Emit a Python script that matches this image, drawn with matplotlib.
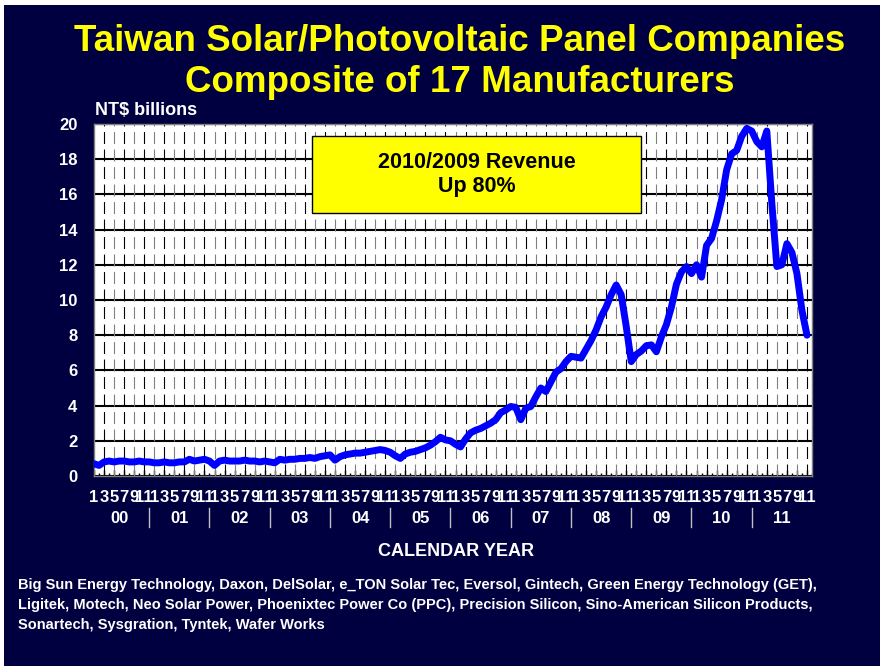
import numpy as np
import matplotlib.pyplot as plt
from matplotlib.patches import Rectangle
from matplotlib import transforms

plt.rcParams['font.family'] = ['Liberation Sans', 'DejaVu Sans']
plt.rcParams['font.weight'] = 'bold'
plt.rcParams['lines.scale_dashes'] = False

NAVY = '#000040'

# monthly revenue, NT$ billions, Jan 2000 .. Nov 2011
revenue = [
    0.70, 0.60, 0.80, 0.85, 0.80, 0.85, 0.85, 0.80, 0.80, 0.85, 0.80, 0.80,   # 2000
    0.75, 0.75, 0.80, 0.75, 0.75, 0.80, 0.80, 0.95, 0.85, 0.90, 0.95, 0.85,   # 2001
    0.60, 0.85, 0.90, 0.85, 0.85, 0.85, 0.90, 0.85, 0.85, 0.80, 0.85, 0.80,   # 2002
    0.75, 0.95, 0.90, 0.95, 0.95, 1.00, 1.00, 1.05, 1.00, 1.10, 1.15, 1.20,   # 2003
    0.90, 1.10, 1.20, 1.25, 1.30, 1.30, 1.35, 1.40, 1.45, 1.50, 1.45, 1.35,   # 2004
    1.15, 1.00, 1.25, 1.35, 1.40, 1.50, 1.60, 1.75, 1.95, 2.20, 2.05, 2.00,   # 2005
    1.80, 1.65, 2.10, 2.45, 2.60, 2.70, 2.85, 3.00, 3.20, 3.60, 3.75, 3.95,   # 2006
    3.90, 3.20, 3.85, 3.95, 4.50, 5.00, 4.80, 5.35, 5.90, 6.10, 6.50, 6.80,   # 2007
    6.75, 6.70, 7.20, 7.70, 8.30, 9.05, 9.60, 10.30, 10.85, 10.30, 8.50, 6.50,  # 2008
    6.90, 7.10, 7.40, 7.45, 7.06, 7.90, 8.60, 9.60, 10.90, 11.60, 11.90, 11.50,  # 2009
    12.00, 11.30, 13.10, 13.50, 14.50, 15.70, 17.40, 18.30, 18.50, 19.30, 19.75, 19.60,  # 2010
    19.00, 18.70, 19.60, 15.50, 11.90, 12.00, 13.20, 12.70, 11.50, 9.40, 8.00,  # 2011
]
years = ['00', '01', '02', '03', '04', '05', '06', '07', '08', '09', '10', '11']
month_labels = ['1', '3', '5', '7', '9', '11']
companies = [
    'Big Sun Energy Technology, Daxon, DelSolar, e_TON Solar Tec, Eversol, Gintech, Green Energy Technology (GET),',
    'Ligitek, Motech, Neo Solar Power, Phoenixtec Power Co (PPC), Precision Silicon, Sino-American Silicon Products,',
    'Sonartech, Sysgration, Tyntek, Wafer Works',
]

months = np.arange(len(revenue))
n_months = len(years) * 12

fig = plt.figure(figsize=(8.8, 6.66), dpi=100)
fig.patch.set_facecolor('white')
fig.patches.append(Rectangle((4 / 880, 0), 1, 1 - 5 / 666, transform=fig.transFigure,
                             facecolor=NAVY, edgecolor='none', zorder=-10))

ax = fig.add_axes([94 / 880, 1 - 476 / 666, 718 / 880, 352 / 666])
ax.set_facecolor('white')
ax.set_xlim(0, n_months - 1)
ax.set_ylim(0, 20)

# gridlines
ax.set_yticks(range(0, 21, 2))
ax.yaxis.grid(True, color='black', lw=1.5, zorder=1)
ax.set_axisbelow(True)
for i in range(2, n_months, 2):
    col = 'black' if i % 4 == 2 else '#808080'
    ax.axvline(i, color=col, lw=0.8, dashes=(8.6, 4.0), zorder=1)

ax.plot(months, revenue, color='#0000FF', lw=5, solid_capstyle='round',
        solid_joinstyle='round', zorder=4)

# ticks
ax.set_xticks(range(0, n_months, 2))
ax.set_xticklabels(month_labels * len(years))
ax.set_xticks(range(1, n_months, 2), minor=True)
ax.tick_params(axis='x', which='major', direction='in', length=4.5, width=1,
               color='black', pad=10, labelsize=12, labelcolor='white')
ax.tick_params(axis='x', which='minor', direction='in', length=2.5, width=1, color='black')
ax.tick_params(axis='y', length=0, pad=12, labelsize=12, labelcolor='white')
for s in ax.spines.values():
    s.set_color('#808080')
    s.set_linewidth(1)

# year labels + separators
trans = transforms.blended_transform_factory(ax.transData, ax.transAxes)
for k, yr in enumerate(years):
    ax.annotate(yr, xy=(12 * k + 5, 0), xycoords=trans, xytext=(0, -34),
                textcoords='offset points', ha='center', va='baseline',
                fontsize=12, color='white')
    if k > 0:
        ax.plot([12 * k - 1] * 2, [-32 / 352, -51 / 352], transform=trans,
                clip_on=False, color='#c0c0c0', lw=1)

# callout box
ax.add_patch(Rectangle((0.3036, 0.747), 0.458, 0.2188, transform=ax.transAxes,
                       facecolor='#FFFF00', edgecolor='black', lw=1, zorder=3))
ax.text(0.5327, 0.856, '2010/2009 Revenue\nUp 80%', transform=ax.transAxes,
        ha='center', va='center', fontsize=15.5, color='black', zorder=5,
        linespacing=1.2)

# titles and notes
fig.text(460 / 880, 1 - 51 / 666, 'Taiwan Solar/Photovoltaic Panel Companies',
         ha='center', va='baseline', color='#FFFF00', fontsize=26.5)
fig.text(460 / 880, 1 - 92 / 666, 'Composite of 17 Manufacturers',
         ha='center', va='baseline', color='#FFFF00', fontsize=26.5)
fig.text(95 / 880, 1 - 115 / 666, 'NT$ billions', ha='left', va='baseline',
         color='white', fontsize=13)
fig.text(456 / 880, 1 - 556 / 666, 'CALENDAR YEAR', ha='center', va='baseline',
         color='white', fontsize=13)
for j, line in enumerate(companies):
    fig.text(18 / 880, 1 - (589 + 20 * j) / 666, line, ha='left', va='baseline',
             color='white', fontsize=10.5)

fig.savefig('out.png', dpi=100, facecolor=fig.get_facecolor())
